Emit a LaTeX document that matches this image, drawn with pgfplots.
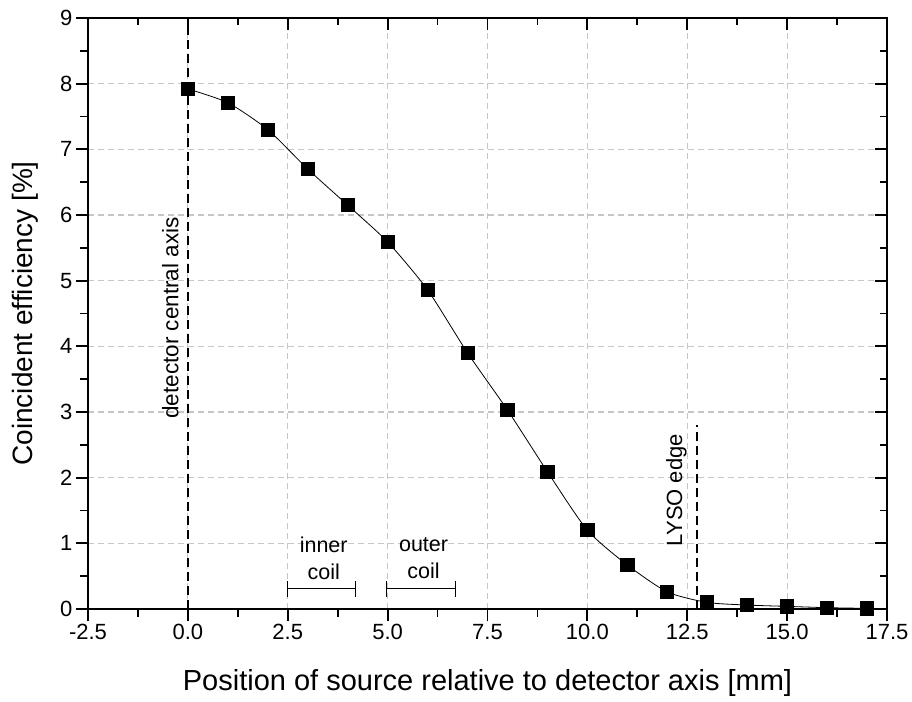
\documentclass[border=0pt]{standalone}
\usepackage{pgfplots}
\pgfplotsset{compat=1.18}
\usepackage{fontspec}
\setmainfont{Liberation Sans}

\pgfplotstableread{
x y
0 7.92
1 7.71
2 7.30
3 6.70
4 6.15
5 5.59
6 4.86
7 3.90
8 3.03
9 2.09
10 1.20
11 0.67
12 0.26
13 0.10
14 0.06
15 0.04
16 0.02
17 0.01
}\effdata

\begin{document}
\begin{tikzpicture}
\pgfplotsset{common/.style={
  at={(0,0)}, anchor=south west, scale only axis,
  width=799bp, height=591bp,
  xmin=-2.5, xmax=17.5, ymin=0, ymax=9,
  xtick={-2.5,0,2.5,5,7.5,10,12.5,15,17.5}, ytick={0,1,...,9},
  minor x tick num=1, minor y tick num=1,
  axis line style={line width=2.5bp, black},
  tick style={line width=1.8bp, black},
}}
\begin{axis}[common,
  tick align=outside,
  xtick pos=bottom, ytick pos=left,
  major tick length=12bp, minor tick length=8bp,
  grid=major,
  major grid style={gray!45, line width=1.1bp, dash pattern=on 6bp off 4bp},
  /pgf/number format/assume math mode=true,
  xticklabel style={font=\fontsize{22bp}{26bp}\selectfont,
    /pgf/number format/.cd, fixed, fixed zerofill, precision=1},
  yticklabel style={font=\fontsize{22bp}{26bp}\selectfont},
  xlabel={Position of source relative to detector axis [mm]},
  ylabel={Coincident efficiency [\%]},
  xlabel style={font=\fontsize{29bp}{33bp}\selectfont, at={(axis description cs:0.5,-0.1252)}, anchor=center},
  ylabel style={font=\fontsize{28bp}{32bp}\selectfont, at={(axis description cs:-0.0789,0.5)}, anchor=center},
]
\draw[black, line width=1.7bp, dash pattern=on 9bp off 5bp] (axis cs:0,0) -- (axis cs:0,9);
\draw[black, line width=1.7bp, dash pattern=on 9bp off 5bp] (axis cs:12.75,0) -- (axis cs:12.75,2.8);
\addplot[black, line width=0.8bp, smooth, tension=0.4, mark=square*, mark size=6.6bp,
  mark options={solid, fill=black}] table[x=x, y=y] {\effdata};
\node[rotate=90, font=\fontsize{22.5bp}{26bp}\selectfont] at (axis cs:-0.44,4.43) {detector central axis};
\node[rotate=90, font=\fontsize{22bp}{26bp}\selectfont] at (axis cs:12.23,1.81) {LYSO edge};
\node[align=center, font=\fontsize{21.5bp}{27bp}\selectfont] at (axis cs:3.4,0.77) {inner\\coil};
\node[align=center, font=\fontsize{21.5bp}{27bp}\selectfont] at (axis cs:5.9,0.77) {outer\\coil};
\draw[black, line width=1.2bp] (axis cs:2.5,0.31) -- (axis cs:4.2,0.31);
\draw[black, line width=1.2bp] (axis cs:2.5,0.19) -- (axis cs:2.5,0.43);
\draw[black, line width=1.2bp] (axis cs:4.2,0.19) -- (axis cs:4.2,0.43);
\draw[black, line width=1.2bp] (axis cs:4.98,0.31) -- (axis cs:6.7,0.31);
\draw[black, line width=1.2bp] (axis cs:4.98,0.19) -- (axis cs:4.98,0.43);
\draw[black, line width=1.2bp] (axis cs:6.7,0.19) -- (axis cs:6.7,0.43);
\end{axis}
\begin{axis}[common,
  tick align=inside,
  xtick pos=top, ytick pos=right,
  major tick length=12bp, minor tick length=7bp,
  xticklabels={}, yticklabels={},
]
\end{axis}
\pgfresetboundingbox
\useasboundingbox (-88bp,-93bp) rectangle (824bp,609bp);
\end{tikzpicture}
\end{document}
